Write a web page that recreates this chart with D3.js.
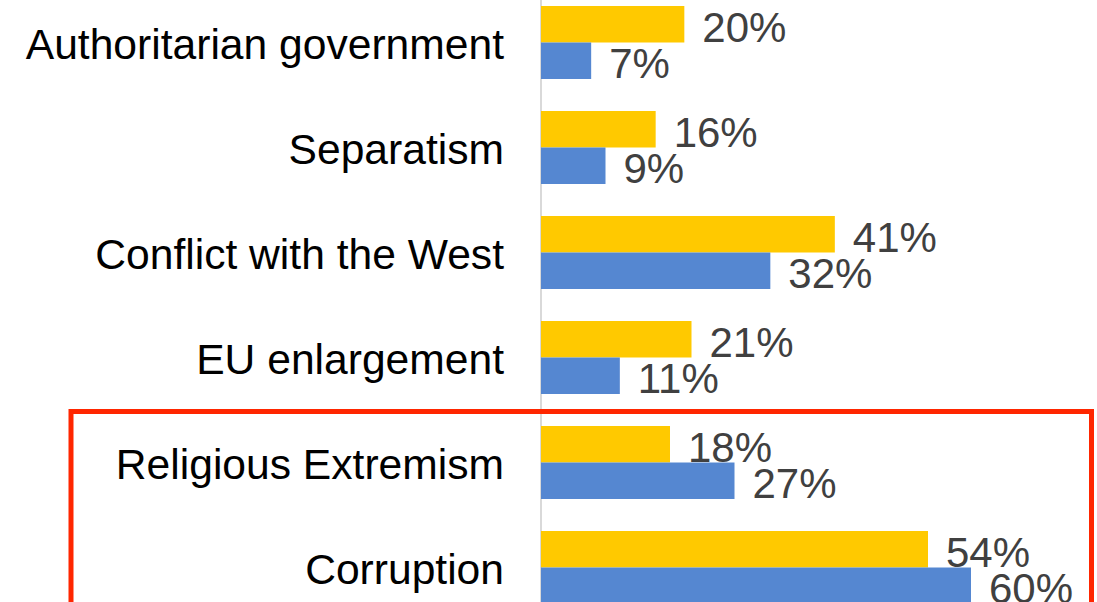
<!DOCTYPE html>
<html>
<head>
<meta charset="utf-8">
<script src="https://cdn.jsdelivr.net/npm/d3@7"></script>
<style>
  html, body { margin: 0; padding: 0; background: #fff; overflow: hidden; }
  svg { display: block; }
  text { font-family: "Liberation Sans", Arial, sans-serif; }
</style>
</head>
<body>
<svg id="chart" width="1097" height="602"></svg>
<script>
// ---- data ----
const categories = ["Authoritarian government", "Separatism", "Conflict with the West", "EU enlargement", "Religious Extremism", "Corruption"];
const seriesNames = ["Series 1", "Series 2"];
const series1Values = [20, 16, 41, 21, 18, 54];  // yellow
const series2Values = [7, 9, 32, 11, 27, 60];    // blue
const seriesColors = ["#FFC900", "#5587D1"];
const highlighted = ["Religious Extremism", "Corruption"];

const rows = categories.map((c, i) => ({
  category: c,
  values: [
    { key: seriesNames[0], value: series1Values[i] },
    { key: seriesNames[1], value: series2Values[i] }
  ]
}));

// ---- layout ----
const W = 1097, H = 602;
const svg = d3.select("#chart");
const x0 = 541;
const x = d3.scaleLinear().domain([0, 60]).range([x0, x0 + 430]);
const y = d3.scaleBand().domain(categories)
  .range([-10, 620]).paddingInner(32 / 105).paddingOuter(16 / 105);
const yInner = d3.scaleBand().domain(seriesNames).range([0, y.bandwidth()]);
const color = d3.scaleOrdinal().domain(seriesNames).range(seriesColors);

// axis line
svg.append("line")
  .attr("x1", x0).attr("x2", x0).attr("y1", 0).attr("y2", H)
  .attr("stroke", "#d9d9d9").attr("stroke-width", 2);

// category labels
const yAxis = d3.axisLeft(y).tickSize(0).tickPadding(0);
const gAxis = svg.append("g").attr("transform", `translate(${x0 - 37},0)`).call(yAxis);
gAxis.select(".domain").remove();
gAxis.selectAll("text")
  .attr("font-size", 42.6)
  .attr("fill", "#000")
  .attr("dy", "0.39em")
  .style("font-family", "'Liberation Sans', Arial, sans-serif");

// bars
const groups = svg.append("g").selectAll("g").data(rows).join("g")
  .attr("transform", d => `translate(0,${y(d.category)})`);

groups.selectAll("rect").data(d => d.values).join("rect")
  .attr("x", x(0))
  .attr("y", d => yInner(d.key))
  .attr("width", d => x(d.value) - x(0))
  .attr("height", yInner.bandwidth())
  .attr("fill", d => color(d.key));

groups.selectAll("text.val").data(d => d.values).join("text")
  .attr("class", "val")
  .attr("x", d => x(d.value) + 18)
  .attr("y", d => yInner(d.key) + yInner.bandwidth() - 1)
  .attr("font-size", 42)
  .attr("fill", "#404040")
  .text(d => d.value + "%");

// highlight box
const hTop = y(highlighted[0]) - 14.5;
svg.append("rect")
  .attr("x", 71).attr("y", hTop)
  .attr("width", 1091.5 - 71).attr("height", H + 20 - hTop)
  .attr("fill", "none")
  .attr("stroke", "#FF2600").attr("stroke-width", 5);
</script>
</body>
</html>
